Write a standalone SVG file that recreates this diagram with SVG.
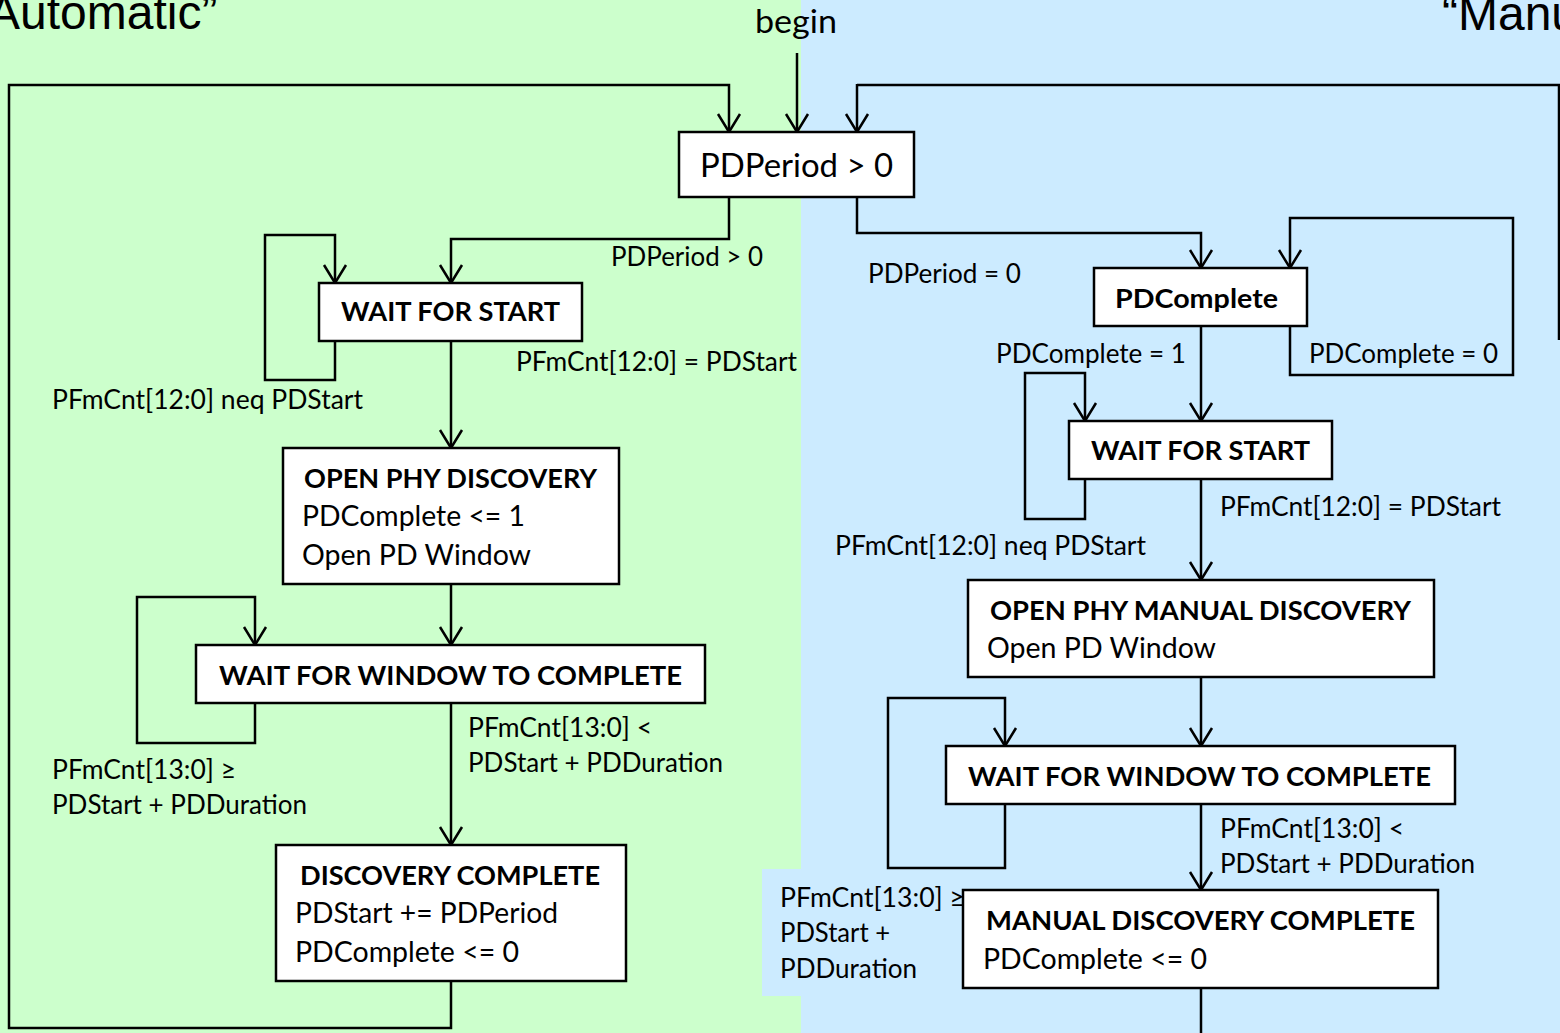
<svg xmlns="http://www.w3.org/2000/svg" width="1560" height="1033" viewBox="0 0 1560 1033">
  <defs>
    <style>
      .bg-auto { fill: #CCFFCC; }
      .bg-manual { fill: #CCEBFF; }
      .title { font-family: "Liberation Sans", Arial, sans-serif; font-size: 48px; fill: #000; }
      .wire { fill: none; stroke: #000; stroke-width: 2.5; stroke-linejoin: miter; }
      .arrow { marker-end: url(#open-arrow); }
      .state { fill: #fff; stroke: #000; stroke-width: 2.5; }
      .lbl { font-family: Lato, "Open Sans", sans-serif; font-size: 26px; fill: #000; }
      .body { font-family: Lato, "Open Sans", sans-serif; font-size: 28px; fill: #000; }
      .head { font-family: Lato, "Open Sans", sans-serif; font-size: 27.5px; font-weight: bold; fill: #000; }
      .big { font-family: Lato, "Open Sans", sans-serif; font-size: 33.5px; fill: #000; }
    </style>
    <marker id="open-arrow" viewBox="-20 -13 22 26" refX="0" refY="0" markerWidth="22" markerHeight="26" markerUnits="userSpaceOnUse" orient="auto">
      <path d="M-18,-11 L0,0 L-18,11" fill="none" stroke="#000" stroke-width="2.5"/>
    </marker>
  </defs>

  <!-- two mode panels -->
  <rect class="bg-auto" x="0" y="0" width="801" height="1033"/>
  <rect class="bg-manual" x="801" y="0" width="759" height="1033"/>
  <rect class="bg-manual" x="762" y="869" width="40" height="127"/>

  <text class="title" x="-28" y="29">“Automatic”</text>
  <text class="title" x="1442" y="30">“Manual”</text>

  <g id="connectors">
    <!-- entry -->
    <text class="big" x="755" y="33" textLength="82" lengthAdjust="spacingAndGlyphs">begin</text>
    <path class="wire arrow" d="M797,53 L797,132"/>

    <!-- automatic mode -->
    <path class="wire arrow" d="M729,197 L729,239 L451,239 L451,283"/>
    <text class="lbl" x="611" y="266" textLength="152" lengthAdjust="spacingAndGlyphs">PDPeriod &gt; 0</text>

    <path class="wire arrow" d="M335,341 L335,380 L265,380 L265,235 L335,235 L335,283"/>
    <text class="lbl" x="52" y="409" textLength="311" lengthAdjust="spacingAndGlyphs">PFmCnt[12:0] neq PDStart</text>

    <path class="wire arrow" d="M451,341 L451,448"/>
    <text class="lbl" x="516" y="371" textLength="281" lengthAdjust="spacingAndGlyphs">PFmCnt[12:0] = PDStart</text>

    <path class="wire arrow" d="M451,584 L451,645"/>

    <path class="wire arrow" d="M255,703 L255,743 L137,743 L137,597 L255,597 L255,645"/>
    <text class="lbl" x="52" y="779" textLength="184" lengthAdjust="spacingAndGlyphs">PFmCnt[13:0] ≥</text>
    <text class="lbl" x="52" y="814" textLength="255" lengthAdjust="spacingAndGlyphs">PDStart + PDDuration</text>

    <path class="wire arrow" d="M451,703 L451,845"/>
    <text class="lbl" x="468" y="737" textLength="184" lengthAdjust="spacingAndGlyphs">PFmCnt[13:0] &lt;</text>
    <text class="lbl" x="468" y="772" textLength="255" lengthAdjust="spacingAndGlyphs">PDStart + PDDuration</text>

    <path class="wire arrow" d="M451,981 L451,1028 L9,1028 L9,85 L729,85 L729,132"/>

    <!-- manual mode -->
    <path class="wire arrow" d="M857,197 L857,233 L1201,233 L1201,268"/>
    <text class="lbl" x="868" y="283" textLength="153" lengthAdjust="spacingAndGlyphs">PDPeriod = 0</text>

    <path class="wire arrow" d="M1290,326 L1290,375 L1513,375 L1513,218 L1290,218 L1290,268"/>
    <text class="lbl" x="1309" y="363" textLength="189" lengthAdjust="spacingAndGlyphs">PDComplete = 0</text>

    <path class="wire arrow" d="M1201,326 L1201,421"/>
    <text class="lbl" x="996" y="363" textLength="190" lengthAdjust="spacingAndGlyphs">PDComplete = 1</text>

    <path class="wire arrow" d="M1085,479 L1085,519 L1025,519 L1025,373 L1085,373 L1085,421"/>
    <text class="lbl" x="835" y="555" textLength="311" lengthAdjust="spacingAndGlyphs">PFmCnt[12:0] neq PDStart</text>

    <path class="wire arrow" d="M1201,479 L1201,580"/>
    <text class="lbl" x="1220" y="516" textLength="281" lengthAdjust="spacingAndGlyphs">PFmCnt[12:0] = PDStart</text>

    <path class="wire arrow" d="M1201,677 L1201,746"/>

    <path class="wire arrow" d="M1005,804 L1005,868 L888,868 L888,698 L1005,698 L1005,746"/>
    <text class="lbl" x="780" y="907" textLength="185" lengthAdjust="spacingAndGlyphs">PFmCnt[13:0] ≥</text>
    <text class="lbl" x="780" y="942" textLength="110" lengthAdjust="spacingAndGlyphs">PDStart +</text>
    <text class="lbl" x="780" y="978" textLength="137" lengthAdjust="spacingAndGlyphs">PDDuration</text>

    <path class="wire arrow" d="M1201,804 L1201,890"/>
    <text class="lbl" x="1220" y="838" textLength="184" lengthAdjust="spacingAndGlyphs">PFmCnt[13:0] &lt;</text>
    <text class="lbl" x="1220" y="873" textLength="255" lengthAdjust="spacingAndGlyphs">PDStart + PDDuration</text>

    <!-- return path of the manual loop, running off the right edge -->
    <path class="wire" d="M1201,988 L1201,1040"/>
    <path class="wire" d="M1559,340 L1559,85 L857,85"/>
    <path class="wire arrow" d="M857,84 L857,132"/>
  </g>

  <g id="node-mode-check">
    <rect class="state" x="679" y="132" width="235" height="65"/>
    <text class="big" x="700" y="177" textLength="193" lengthAdjust="spacingAndGlyphs">PDPeriod &gt; 0</text>
  </g>

  <g id="node-auto-wait-start">
    <rect class="state" x="319" y="283" width="263" height="58"/>
    <text class="head" x="341" y="321" textLength="219" lengthAdjust="spacingAndGlyphs">WAIT FOR START</text>
  </g>

  <g id="node-auto-open-discovery">
    <rect class="state" x="283" y="448" width="336" height="136"/>
    <text class="head" x="304" y="488" textLength="293" lengthAdjust="spacingAndGlyphs">OPEN PHY DISCOVERY</text>
    <text class="body" x="302" y="526" textLength="223" lengthAdjust="spacingAndGlyphs">PDComplete &lt;= 1</text>
    <text class="body" x="302" y="565" textLength="229" lengthAdjust="spacingAndGlyphs">Open PD Window</text>
  </g>

  <g id="node-auto-wait-window">
    <rect class="state" x="196" y="645" width="509" height="58"/>
    <text class="head" x="219" y="685" textLength="463" lengthAdjust="spacingAndGlyphs">WAIT FOR WINDOW TO COMPLETE</text>
  </g>

  <g id="node-auto-discovery-complete">
    <rect class="state" x="276" y="845" width="350" height="136"/>
    <text class="head" x="300" y="885" textLength="300" lengthAdjust="spacingAndGlyphs">DISCOVERY COMPLETE</text>
    <text class="body" x="295" y="923" textLength="263" lengthAdjust="spacingAndGlyphs">PDStart += PDPeriod</text>
    <text class="body" x="295" y="962" textLength="224" lengthAdjust="spacingAndGlyphs">PDComplete &lt;= 0</text>
  </g>

  <g id="node-pdcomplete">
    <rect class="state" x="1094" y="268" width="213" height="58"/>
    <text class="head" x="1115" y="308" textLength="163" lengthAdjust="spacingAndGlyphs">PDComplete</text>
  </g>

  <g id="node-manual-wait-start">
    <rect class="state" x="1069" y="421" width="263" height="58"/>
    <text class="head" x="1091" y="460" textLength="219" lengthAdjust="spacingAndGlyphs">WAIT FOR START</text>
  </g>

  <g id="node-manual-open-discovery">
    <rect class="state" x="968" y="580" width="466" height="97"/>
    <text class="head" x="990" y="620" textLength="421" lengthAdjust="spacingAndGlyphs">OPEN PHY MANUAL DISCOVERY</text>
    <text class="body" x="987" y="658" textLength="229" lengthAdjust="spacingAndGlyphs">Open PD Window</text>
  </g>

  <g id="node-manual-wait-window">
    <rect class="state" x="946" y="746" width="509" height="58"/>
    <text class="head" x="968" y="786" textLength="463" lengthAdjust="spacingAndGlyphs">WAIT FOR WINDOW TO COMPLETE</text>
  </g>

  <g id="node-manual-discovery-complete">
    <rect class="state" x="963" y="890" width="475" height="98"/>
    <text class="head" x="986" y="930" textLength="429" lengthAdjust="spacingAndGlyphs">MANUAL DISCOVERY COMPLETE</text>
    <text class="body" x="983" y="969" textLength="224" lengthAdjust="spacingAndGlyphs">PDComplete &lt;= 0</text>
  </g>
</svg>
